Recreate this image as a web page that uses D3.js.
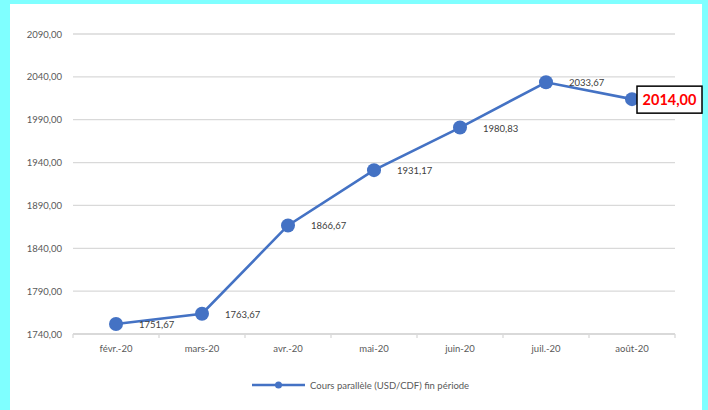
<!DOCTYPE html>
<html><head><meta charset="utf-8">
<script src="https://cdn.jsdelivr.net/npm/d3@7"></script>
<style>html,body{margin:0;padding:0;background:#7fffff;}svg{display:block;}</style>
</head><body>
<script>
const categories = ["févr.-20","mars-20","avr.-20","mai-20","juin-20","juil.-20","août-20"];
const values = [1751.67,1763.67,1866.67,1931.17,1980.83,2033.67,2014.00];
const valueLabels = ["1751,67","1763,67","1866,67","1931,17","1980,83","2033,67","2014,00"];
const yTicks = [1740,1790,1840,1890,1940,1990,2040,2090];
const seriesName = "Cours parallèle (USD/CDF) fin période";

const W = 708, H = 410;
const svg = d3.select("body").append("svg").attr("width", W).attr("height", H);
svg.append("rect").attr("x",0).attr("y",0).attr("width",W).attr("height",H).attr("fill","#7fffff");
svg.append("rect").attr("x",10).attr("y",4).attr("width",692).attr("height",H-4).attr("fill","#ffffff");

const font = "Lato, 'Open Sans', sans-serif";
const x = d3.scaleBand().domain(categories).range([73, 675]);
const y = d3.scaleLinear().domain([1740, 2090]).range([334, 34]);

// gridlines
svg.append("g").selectAll("line").data(yTicks.slice(1)).join("line")
  .attr("x1", 73).attr("x2", 675)
  .attr("y1", d => y(d)).attr("y2", d => y(d))
  .attr("stroke", "#d9d9d9").attr("stroke-width", 1.3);

// y labels
const fmt = d => d3.format(".2f")(d).replace(".", ",");
svg.append("g").selectAll("text").data(yTicks).join("text")
  .attr("x", 62).attr("y", d => y(d) + 3.5)
  .attr("text-anchor", "end").attr("font-family", font).attr("font-size", 9.5)
  .attr("fill", "#595959").text(fmt);

// x axis
const xa = svg.append("g").attr("transform", `translate(0,${y(1740)})`)
  .call(d3.axisBottom(x).tickSize(0).tickPadding(11));
xa.select(".domain").attr("stroke", "#d9d9d9").attr("stroke-width", 2.2).attr("d", "M73,0H675");
xa.selectAll("text").attr("font-family", font).attr("font-size", 9.5).attr("fill", "#595959");
// category boundary ticks
svg.append("g").selectAll("line").data(d3.range(categories.length + 1)).join("line")
  .attr("x1", i => 73 + i * x.step()).attr("x2", i => 73 + i * x.step())
  .attr("y1", y(1740)).attr("y2", y(1740) + 4)
  .attr("stroke", "#d9d9d9").attr("stroke-width", 1.3);

// line
const line = d3.line().x((d, i) => x(categories[i]) + x.bandwidth() / 2).y(d => y(d));
svg.append("path").datum(values).attr("d", line)
  .attr("fill", "none").attr("stroke", "#4472c4").attr("stroke-width", 2.6);
svg.append("g").selectAll("circle").data(values).join("circle")
  .attr("cx", (d, i) => x(categories[i]) + x.bandwidth() / 2).attr("cy", d => y(d))
  .attr("r", 7).attr("fill", "#4472c4");

// data labels (all but last)
svg.append("g").selectAll("text").data(values.slice(0, -1)).join("text")
  .attr("x", (d, i) => x(categories[i]) + x.bandwidth() / 2 + 23)
  .attr("y", d => y(d) + 4)
  .attr("font-family", font).attr("font-size", 9.5).attr("fill", "#404040")
  .text((d, i) => valueLabels[i]);

// last label boxed
const li = values.length - 1;
const lx = x(categories[li]) + x.bandwidth() / 2;
const ly = y(values[li]);
svg.append("rect").attr("x", lx + 5).attr("y", ly - 13).attr("width", 65).attr("height", 27)
  .attr("fill", "#ffffff").attr("stroke", "#000000").attr("stroke-width", 1.5);
svg.append("text").attr("x", lx + 37.5).attr("y", ly + 5.5).attr("text-anchor", "middle")
  .attr("font-family", font).attr("font-size", 14.5).attr("font-weight", "bold")
  .attr("fill", "#ff0000").text(valueLabels[li]);

// legend
const lg = svg.append("g");
lg.append("line").attr("x1", 252).attr("x2", 305).attr("y1", 385).attr("y2", 385)
  .attr("stroke", "#4472c4").attr("stroke-width", 2.6);
lg.append("circle").attr("cx", 278.5).attr("cy", 385).attr("r", 3.5).attr("fill", "#4472c4");
lg.append("text").attr("x", 310).attr("y", 388.5).attr("font-family", font).attr("font-size", 9.5)
  .attr("fill", "#595959").text(seriesName);
</script>
</body></html>
